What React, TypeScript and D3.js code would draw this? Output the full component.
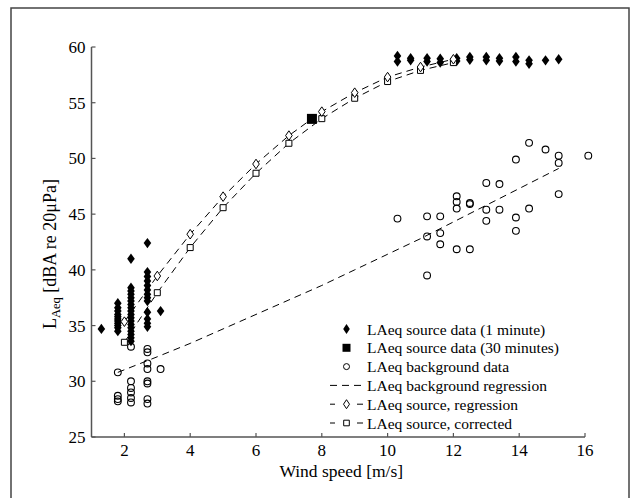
import * as d3 from "d3";

// 1-minute source measurements [wind speed, LAeq]
const source1min: [number, number][] = [
  [1.3, 34.7],
  [1.8, 37.0], [1.8, 36.6], [1.8, 36.3], [1.8, 36.0], [1.8, 35.8], [1.8, 35.6],
  [1.8, 35.4], [1.8, 35.2], [1.8, 35.0], [1.8, 34.8], [1.8, 34.5],
  [2.2, 41.0], [2.2, 38.4], [2.2, 38.1], [2.2, 37.8], [2.2, 37.5], [2.2, 37.2],
  [2.2, 36.9], [2.2, 36.6], [2.2, 36.3], [2.2, 36.0], [2.2, 35.7], [2.2, 35.4],
  [2.2, 35.1], [2.2, 34.8], [2.2, 34.5], [2.2, 34.2], [2.2, 33.9], [2.2, 33.6],
  [2.7, 42.4], [2.7, 39.8], [2.7, 39.4], [2.7, 39.0], [2.7, 38.6], [2.7, 38.2],
  [2.7, 37.8], [2.7, 37.5], [2.7, 37.2], [2.7, 36.2], [2.7, 35.6], [2.7, 35.2], [2.7, 34.9],
  [3.1, 36.3],
  [10.3, 59.2], [10.3, 58.7], [10.7, 59.0], [10.7, 58.8], [11.2, 59.0], [11.2, 58.7],
  [11.6, 58.95], [11.6, 58.6], [12.1, 59.0], [12.1, 58.75], [12.5, 59.1], [12.5, 58.85],
  [13.0, 59.1], [13.0, 58.8], [13.4, 59.0], [13.4, 58.75], [13.9, 59.1], [13.9, 58.7],
  [14.3, 58.8], [14.3, 58.5], [14.8, 58.8], [15.2, 58.9],
];

const source30min: [number, number][] = [[7.7, 53.55]];

const background: [number, number][] = [
  [1.8, 30.8], [1.8, 28.7], [1.8, 28.4], [1.8, 28.2],
  [2.2, 33.1], [2.2, 30.0], [2.2, 29.4], [2.2, 29.0], [2.2, 28.5], [2.2, 28.1],
  [2.7, 32.9], [2.7, 32.6], [2.7, 31.6], [2.7, 31.1], [2.7, 30.0], [2.7, 29.8], [2.7, 28.4], [2.7, 28.0],
  [3.1, 31.1],
  [10.3, 44.6],
  [11.2, 44.8], [11.2, 43.0], [11.2, 39.5],
  [11.6, 44.8], [11.6, 43.3], [11.6, 42.3],
  [12.1, 46.6], [12.1, 46.1], [12.1, 45.5], [12.1, 41.85],
  [12.5, 46.0], [12.5, 45.9], [12.5, 41.85],
  [13.0, 47.8], [13.0, 45.4], [13.0, 44.4],
  [13.4, 47.7], [13.4, 45.4],
  [13.9, 49.9], [13.9, 44.7], [13.9, 43.5],
  [14.3, 51.4], [14.3, 45.5],
  [14.8, 50.8],
  [15.2, 50.25], [15.2, 49.6], [15.2, 46.8],
  [16.1, 50.25],
];

const bgRegX = [1.8, 3, 4, 5, 6, 7, 8, 9, 10, 11, 12, 13, 14, 15.2];
const bgRegY = [30.8, 32.2, 33.4, 34.7, 36.0, 37.3, 38.6, 40.0, 41.4, 42.8, 44.3, 45.8, 47.3, 49.1];

const regX = [2, 3, 4, 5, 6, 7, 8, 9, 10, 11, 12];
const srcRegY = [35.35, 39.45, 43.2, 46.57, 49.5, 52.05, 54.2, 55.9, 57.3, 58.2, 58.9];
const srcCorrY = [33.5, 37.95, 42.0, 45.58, 48.67, 51.36, 53.57, 55.4, 56.9, 57.9, 58.6];

const xTicks = [2, 4, 6, 8, 10, 12, 14, 16];
const yTicks = [25, 30, 35, 40, 45, 50, 55, 60];

const legendLabels = [
  "LAeq source data (1 minute)",
  "LAeq source data (30 minutes)",
  "LAeq background data",
  "LAeq background regression",
  "LAeq source, regression",
  "LAeq source, corrected",
];

const W = 636;
const H = 498;
const font = "'Liberation Serif', 'Times New Roman', serif";
const axisColor = "#555";

const x = d3.scaleLinear().domain([1, 16]).range([91.5, 585]);
const y = d3.scaleLinear().domain([25, 60]).range([437, 47]);

const diamond = (w: number, h: number) => `M0,${-h}L${w},0L0,${h}L${-w},0Z`;
const square = (s: number) => `M${-s},${-s}H${s}V${s}H${-s}Z`;

export default function App() {
  const line = d3
    .line<[number, number]>()
    .x((d) => x(d[0]))
    .y((d) => y(d[1]));

  const bgReg = bgRegX.map((v, i) => [v, bgRegY[i]] as [number, number]);
  const srcReg = regX.map((v, i) => [v, srcRegY[i]] as [number, number]);
  const srcCorr = regX.map((v, i) => [v, srcCorrY[i]] as [number, number]);

  const lx = 346.5;
  const ly0 = 329;
  const lstep = 18.8;

  return (
    <svg
      width={W}
      height={H}
      style={{ position: "absolute", left: 0, top: 0 }}
      fontFamily={font}
    >
      <rect x={0} y={0} width={W} height={H} fill="white" />
      <rect x={11} y={8} width={618} height={500} fill="none" stroke="#444" strokeWidth={1.5} />

      {/* axes */}
      <line x1={x(1)} x2={x(16)} y1={y(25)} y2={y(25)} stroke={axisColor} strokeWidth={1.5} />
      <line x1={x(1)} x2={x(1)} y1={y(25)} y2={y(60)} stroke={axisColor} strokeWidth={1.5} />
      {xTicks.map((t) => (
        <g key={"x" + t}>
          <line x1={x(t)} x2={x(t)} y1={y(25)} y2={y(25) - 4} stroke={axisColor} strokeWidth={1.2} />
          <text x={x(t)} y={y(25) + 19} fontSize={17} textAnchor="middle">
            {t}
          </text>
        </g>
      ))}
      {yTicks.map((t) => (
        <g key={"y" + t}>
          <line x1={x(1)} x2={x(1) + 4} y1={y(t)} y2={y(t)} stroke={axisColor} strokeWidth={1.2} />
          <text x={x(1) - 6} y={y(t) + 6} fontSize={17} textAnchor="end">
            {t}
          </text>
        </g>
      ))}
      <text x={(x(1) + x(16)) / 2 + 3} y={y(25) + 40} fontSize={17.5} textAnchor="middle">
        Wind speed [m/s]
      </text>
      <text
        transform={`translate(56,${(y(25) + y(60)) / 2 + 12}) rotate(-90)`}
        fontSize={18}
        textAnchor="middle"
      >
        L<tspan fontSize={12.5} dy={4}>Aeq</tspan>
        <tspan dy={-4}> [dBA re 20μPa]</tspan>
      </text>

      {/* regression lines */}
      <path d={line(bgReg) ?? ""} fill="none" stroke="#000" strokeWidth={1} strokeDasharray="7,5" />
      <path d={line(srcReg) ?? ""} fill="none" stroke="#000" strokeWidth={1} strokeDasharray="7,5" />
      <path d={line(srcCorr) ?? ""} fill="none" stroke="#000" strokeWidth={1} strokeDasharray="7,5" />

      {/* background data */}
      {background.map((d, i) => (
        <circle key={"b" + i} cx={x(d[0])} cy={y(d[1])} r={3.4} fill="none" stroke="#000" strokeWidth={1.1} />
      ))}

      {/* 1-minute source data */}
      {source1min.map((d, i) => (
        <path key={"s" + i} d={diamond(3.8, 5.2)} transform={`translate(${x(d[0])},${y(d[1])})`} fill="#000" />
      ))}

      {/* regression markers */}
      {srcCorr.map((d, i) => (
        <path
          key={"c" + i}
          d={square(3)}
          transform={`translate(${x(d[0])},${y(d[1])})`}
          fill="white"
          stroke="#000"
          strokeWidth={1}
        />
      ))}
      {srcReg.map((d, i) => (
        <path
          key={"r" + i}
          d={diamond(3.3, 4.8)}
          transform={`translate(${x(d[0])},${y(d[1])})`}
          fill="white"
          stroke="#000"
          strokeWidth={1}
        />
      ))}

      {/* 30-minute source data */}
      {source30min.map((d, i) => (
        <path key={"m" + i} d={square(5)} transform={`translate(${x(d[0])},${y(d[1])})`} fill="#000" />
      ))}

      {/* legend */}
      <g>
        <path d={diamond(3.3, 5)} transform={`translate(${lx},${ly0})`} fill="#000" />
        <path d={square(4)} transform={`translate(${lx},${ly0 + lstep})`} fill="#000" />
        <circle cx={lx} cy={ly0 + 2 * lstep} r={3} fill="none" stroke="#000" strokeWidth={1} />
        <line x1={330} x2={363} y1={ly0 + 3 * lstep} y2={ly0 + 3 * lstep} stroke="#000" strokeWidth={1} strokeDasharray="7,5" />
        <line x1={330} x2={335} y1={ly0 + 4 * lstep} y2={ly0 + 4 * lstep} stroke="#000" strokeWidth={1} />
        <line x1={357} x2={363} y1={ly0 + 4 * lstep} y2={ly0 + 4 * lstep} stroke="#000" strokeWidth={1} />
        <path d={diamond(3, 4.5)} transform={`translate(${lx},${ly0 + 4 * lstep})`} fill="white" stroke="#000" strokeWidth={1} />
        <line x1={330} x2={335} y1={ly0 + 5 * lstep} y2={ly0 + 5 * lstep} stroke="#000" strokeWidth={1} />
        <line x1={357} x2={363} y1={ly0 + 5 * lstep} y2={ly0 + 5 * lstep} stroke="#000" strokeWidth={1} />
        <path d={square(2.8)} transform={`translate(${lx},${ly0 + 5 * lstep})`} fill="white" stroke="#000" strokeWidth={1} />
        {legendLabels.map((l, i) => (
          <text key={l} x={367} y={ly0 + i * lstep + 5.5} fontSize={15.5}>
            {l}
          </text>
        ))}
      </g>
    </svg>
  );
}
